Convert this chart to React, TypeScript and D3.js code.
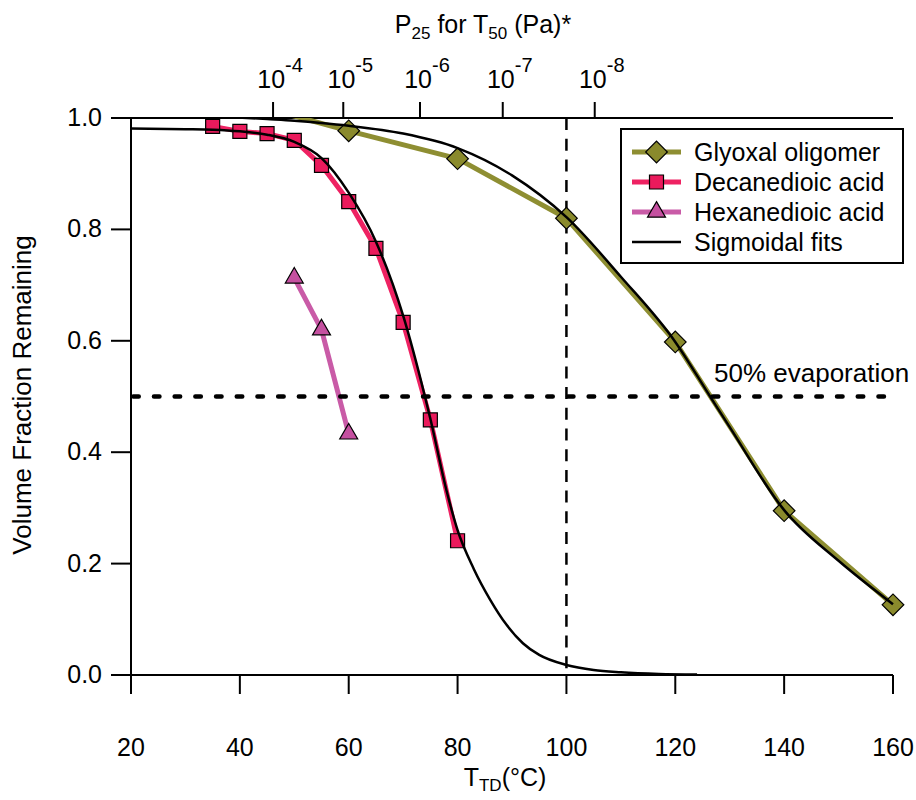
import React, { useRef, useEffect } from "react";
import * as d3 from "d3";

const FONT = "'Liberation Sans', Arial, Helvetica, sans-serif";

// axes
const tempTicks = [20, 40, 60, 80, 100, 120, 140, 160];
const fracTicks = [0, 0.2, 0.4, 0.6, 0.8, 1.0];
// top axis: temperature at which each P25 decade sits
const pressTickTemps = [46.1, 59.0, 73.1, 88.3, 105.2];
const pressTickExps = [-4, -5, -6, -7, -8];

// measured series
const glyoxalT = [40, 60, 80, 100, 120, 140, 160];
const glyoxalV = [1.03, 0.977, 0.927, 0.82, 0.598, 0.295, 0.126];
const decaneT = [35, 40, 45, 50, 55, 60, 65, 70, 75, 80];
const decaneV = [0.985, 0.976, 0.972, 0.96, 0.915, 0.85, 0.766, 0.633, 0.458, 0.241];
const hexaneT = [50, 55, 60];
const hexaneV = [0.713, 0.62, 0.433];

// sigmoidal fit curves
const decaneFitT = [20, 30, 35, 40, 45, 50, 55, 60, 65, 70, 74, 75, 78, 80, 83, 86, 89, 92, 95, 100, 105, 110, 117, 124];
const decaneFitV = [0.981, 0.98, 0.979, 0.976, 0.97, 0.957, 0.928, 0.866, 0.778, 0.645, 0.5, 0.46, 0.33, 0.26, 0.19, 0.135, 0.09, 0.057, 0.036, 0.018, 0.009, 0.005, 0.002, 0.001];
const glyoxalFitT = [38, 45, 50, 55, 60, 70, 80, 90, 100, 110, 120, 126.4, 130, 140, 150, 160];
const glyoxalFitV = [1.002, 0.998, 0.995, 0.991, 0.986, 0.972, 0.946, 0.897, 0.822, 0.715, 0.598, 0.5, 0.445, 0.296, 0.205, 0.127];

const halfLevel = 0.5;
const refTemp = 100;

const legendNames = ["Glyoxal oligomer", "Decanedioic acid", "Hexanedioic acid", "Sigmoidal fits"];

const olive = "#8e8e32";
const oliveFill = "#8a8a2c";
const crimson = "#ee2262";
const crimsonFill = "#ea1a5c";
const orchid = "#c95ba7";
const orchidFill = "#c550a0";

const left = 131;
const top = 118;
const width = 762;
const height = 557;

const App = () => {
  const xAxisRef = useRef<SVGGElement>(null);
  const yAxisRef = useRef<SVGGElement>(null);
  const topAxisRef = useRef<SVGGElement>(null);

  const x = d3.scaleLinear().domain([20, 160]).range([0, width]);
  const y = d3.scaleLinear().domain([0, 1]).range([height, 0]);

  const line = d3
    .line<[number, number]>()
    .x((d) => x(d[0]))
    .y((d) => y(d[1]));
  const smooth = d3
    .line<[number, number]>()
    .x((d) => x(d[0]))
    .y((d) => y(d[1]))
    .curve(d3.curveMonotoneX);

  const zip = (a: number[], b: number[]) => a.map((t, i) => [t, b[i]] as [number, number]);
  const glyoxal = zip(glyoxalT, glyoxalV);
  const decane = zip(decaneT, decaneV);
  const hexane = zip(hexaneT, hexaneV);

  const diamond = d3.symbol(d3.symbolSquare, 234)();
  const square = d3.symbol(d3.symbolSquare, 196)();
  const triangle = d3.symbol(d3.symbolTriangle, 140)();

  useEffect(() => {
    const style = (g: any) => {
      g.attr("font-size", 25).attr("font-family", FONT);
      g.select(".domain").attr("stroke-width", 2);
      g.selectAll(".tick line").attr("stroke-width", 2);
      g.selectAll(".tick text").attr("fill", "#000");
    };

    const xb = d3.select(xAxisRef.current);
    xb.call(
      d3
        .axisBottom(x)
        .tickValues(tempTicks)
        .tickSizeInner(19)
        .tickSizeOuter(0)
        .tickPadding(44)
        .tickFormat(d3.format("d"))
        .offset(0)
    );
    style(xb);

    const yl = d3.select(yAxisRef.current);
    yl.call(
      d3
        .axisLeft(y)
        .tickValues(fracTicks)
        .tickSizeInner(20)
        .tickSizeOuter(0)
        .tickPadding(9)
        .tickFormat(d3.format(".1f"))
        .offset(0)
    );
    style(yl);

    const xt = d3.select(topAxisRef.current);
    xt.call(
      d3
        .axisTop(x)
        .tickValues(pressTickTemps)
        .tickSizeInner(16)
        .tickSizeOuter(0)
        .tickPadding(14)
        .tickFormat(() => "")
        .offset(0)
    );
    style(xt);
    xt.selectAll(".tick text").each(function (d, i) {
      const t = d3.select(this as SVGTextElement);
      t.text(null).attr("x", 7);
      t.append("tspan").text("10");
      t.append("tspan").attr("dy", -16).attr("font-size", 20).text(String(pressTickExps[i]));
    });
  }, []);

  const legendRows = [152, 182, 212, 242];
  const legendMarks = [
    { color: olive, fill: oliveFill, path: diamond, rot: 45 },
    { color: crimson, fill: crimsonFill, path: square, rot: 0 },
    { color: orchid, fill: orchidFill, path: triangle, rot: 0 },
    null,
  ];

  return (
    <svg
      width={916}
      height={800}
      style={{ position: "absolute", left: 0, top: 0, background: "#fff" }}
      fontFamily={FONT}
    >
      <defs>
        <clipPath id="plotClip">
          <rect x={-20} y={0} width={width + 40} height={height + 20} />
        </clipPath>
      </defs>

      <g transform={`translate(${left},${top})`}>
        <g ref={topAxisRef}></g>
        <g ref={xAxisRef} transform={`translate(0,${height})`}></g>
        <g ref={yAxisRef}></g>

        <g clipPath="url(#plotClip)">
          {/* measured series lines */}
          <path d={line(glyoxal) || ""} fill="none" stroke={olive} strokeWidth={5} strokeLinejoin="round" />
          <path d={line(decane) || ""} fill="none" stroke={crimson} strokeWidth={5} strokeLinejoin="round" />
          <path d={line(hexane) || ""} fill="none" stroke={orchid} strokeWidth={5} strokeLinejoin="round" />

          {/* reference lines */}
          <line
            x1={0}
            x2={width}
            y1={y(halfLevel)}
            y2={y(halfLevel)}
            stroke="#000"
            strokeWidth={4.5}
            strokeDasharray="5.5 15.2"
            strokeDashoffset={-2.25}
            strokeLinecap="round"
          />
          <line
            x1={x(refTemp)}
            x2={x(refTemp)}
            y1={0}
            y2={height}
            stroke="#000"
            strokeWidth={2.5}
            strokeDasharray="12 8.7"
          />

          {/* markers */}
          {glyoxal.map((d, i) => (
            <path
              key={"g" + i}
              d={diamond || ""}
              transform={`translate(${x(d[0])},${y(d[1])}) rotate(45)`}
              fill={oliveFill}
              stroke="#000"
              strokeWidth={1.2}
            />
          ))}
          {decane.map((d, i) => (
            <path
              key={"d" + i}
              d={square || ""}
              transform={`translate(${x(d[0])},${y(d[1])})`}
              fill={crimsonFill}
              stroke="#000"
              strokeWidth={1.2}
            />
          ))}
          {hexane.map((d, i) => (
            <path
              key={"h" + i}
              d={triangle || ""}
              transform={`translate(${x(d[0])},${y(d[1])})`}
              fill={orchidFill}
              stroke="#000"
              strokeWidth={1.2}
            />
          ))}

          {/* fits */}
          <path d={smooth(zip(decaneFitT, decaneFitV)) || ""} fill="none" stroke="#000" strokeWidth={2.5} />
          <path d={smooth(zip(glyoxalFitT, glyoxalFitV)) || ""} fill="none" stroke="#000" strokeWidth={2.5} />
        </g>
      </g>

      <text x={714} y={382} fontSize={26}>50% evaporation</text>

      {/* axis titles */}
      <text transform="translate(31,395) rotate(-90)" textAnchor="middle" fontSize={26}>
        Volume Fraction Remaining
      </text>
      <text x={505} y={786} textAnchor="middle" fontSize={25}>
        T<tspan fontSize={17} dy={5}>TD</tspan>
        <tspan dy={-5}>(°C)</tspan>
      </text>
      <text x={483} y={33} textAnchor="middle" fontSize={25}>
        P<tspan fontSize={17} dy={6}>25</tspan>
        <tspan dy={-6}> for T</tspan>
        <tspan fontSize={17} dy={6}>50</tspan>
        <tspan dy={-6}> (Pa)*</tspan>
      </text>

      {/* legend */}
      <rect x={621} y={129} width={282} height={134} fill="#fff" stroke="#000" strokeWidth={2} />
      {legendNames.map((name, i) => {
        const m = legendMarks[i];
        const cy = legendRows[i];
        return (
          <g key={name}>
            <line x1={632} x2={681} y1={cy} y2={cy} stroke={m ? m.color : "#000"} strokeWidth={m ? 5 : 2.5} />
            {m && (
              <path
                d={m.path || ""}
                transform={`translate(656.5,${cy}) rotate(${m.rot})`}
                fill={m.fill}
                stroke="#000"
                strokeWidth={1.2}
              />
            )}
            <text x={694} y={cy + 9} fontSize={25}>
              {name}
            </text>
          </g>
        );
      })}
    </svg>
  );
};

export default App;
